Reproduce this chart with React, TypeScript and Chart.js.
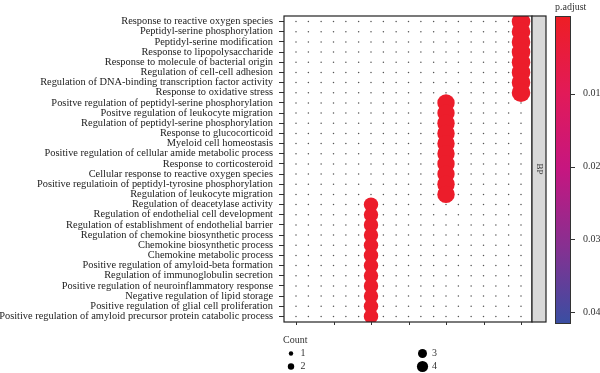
import React, { useEffect, useRef } from "react";
import { Chart, registerables } from "chart.js";
Chart.register(...registerables);

const terms = [
  "Response to reactive oxygen species",
  "Peptidyl-serine phosphorylation",
  "Peptidyl-serine modification",
  "Response to lipopolysaccharide",
  "Response to molecule of bacterial origin",
  "Regulation of cell-cell adhesion",
  "Regulation of DNA-binding transcription factor activity",
  "Response to oxidative stress",
  "Positve regulation of peptidyl-serine phosphorylation",
  "Positve regulation of leukocyte migration",
  "Regulation of peptidyl-serine phosphorylation",
  "Response to glucocorticoid",
  "Myeloid cell homeostasis",
  "Positive regulation of cellular amide metabolic process",
  "Response to corticosteroid",
  "Cellular response to reactive oxygen species",
  "Positive regulatioin of peptidyl-tyrosine phosphorylation",
  "Regulation of leukocyte migration",
  "Regulation of deacetylase activity",
  "Regulation of endothelial cell development",
  "Regulation of establishment of endothelial barrier",
  "Regulation of chemokine biosynthetic process",
  "Chemokine biosynthetic process",
  "Chemokine metabolic process",
  "Positive regulation of amyloid-beta formation",
  "Regulation of immunoglobulin secretion",
  "Positive regulation of neuroinflammatory response",
  "Negative regulation of lipid storage",
  "Positive regulation of glial cell proliferation",
  "Positive regulation of amyloid precursor protein catabolic process",
];

// column (cluster) of each term's enriched dot
const termCluster = [
  7, 7, 7, 7, 7, 7, 7, 7,
  5, 5, 5, 5, 5, 5, 5, 5, 5, 5,
  3, 3, 3, 3, 3, 3, 3, 3, 3, 3, 3, 3,
];
const termCount = [
  4, 4, 4, 4, 4, 4, 4, 4,
  3, 3, 3, 3, 3, 3, 3, 3, 3, 3,
  2, 2, 2, 2, 2, 2, 2, 2, 2, 2, 2, 2,
];
const termPAdjust = [
  0.0008, 0.0008, 0.0008, 0.0008, 0.0008, 0.0008, 0.0008, 0.0008,
  0.0008, 0.0008, 0.0008, 0.0008, 0.0008, 0.0008, 0.0008, 0.0008, 0.0008, 0.0008,
  0.0008, 0.0008, 0.0008, 0.0008, 0.0008, 0.0008, 0.0008, 0.0008, 0.0008, 0.0008, 0.0008, 0.0008,
];

const clusterTicks = [1, 2, 3, 4, 5, 6, 7];
const backgroundColumns = [
  1, 1.33, 1.67, 2, 2.33, 2.67, 3, 3.33, 3.67, 4, 4.33, 4.67, 5, 5.33, 5.67, 6, 6.33, 6.67, 7,
];
const colorbarTicks = [0.01, 0.02, 0.03, 0.04];
const colorbarRange = [-0.0007, 0.0415];
const countLegend = [1, 2, 3, 4];
const facetLabel = "BP";

const SERIF = '"Liberation Serif", "DejaVu Serif", serif';
const STOPS: [number, number[]][] = [
  [0, [238, 30, 36]],
  [0.25, [226, 26, 88]],
  [0.5, [198, 22, 128]],
  [0.75, [135, 48, 145]],
  [1, [58, 78, 162]],
];
function colorAt(t: number) {
  t = Math.max(0, Math.min(1, t));
  for (let i = 1; i < STOPS.length; i++) {
    const [t1, c1] = STOPS[i];
    const [t0, c0] = STOPS[i - 1];
    if (t <= t1) {
      const f = (t - t0) / (t1 - t0);
      const c = c0.map((v, k) => Math.round(v + (c1[k] - v) * f));
      return `rgb(${c[0]},${c[1]},${c[2]})`;
    }
  }
  return "rgb(58,78,162)";
}
const pToColor = (p: number) => colorAt((p - colorbarRange[0]) / (colorbarRange[1] - colorbarRange[0]));
const plotRadius = (c: number) => [0, 4, 7.2, 8.7, 9.3][c];
const legendRadius = (c: number) => [0, 2.2, 3.2, 4.5, 5.6][c];

export default function App() {
  const ref = useRef<HTMLCanvasElement>(null);
  useEffect(() => {
    if (!ref.current) return;
    const rows = terms.map((_, i) => i + 1);
    const bg: { x: number; y: number }[] = [];
    rows.forEach((r) => backgroundColumns.forEach((c) => bg.push({ x: c, y: r })));
    const fg = terms.map((_, i) => ({ x: termCluster[i], y: i + 1 }));

    const decor = {
      id: "decor",
      afterDraw(chart: any) {
        const ctx = chart.ctx;
        const a = chart.chartArea;
        const xs = chart.scales.x;
        ctx.save();
        // panel border
        ctx.strokeStyle = "#222";
        ctx.lineWidth = 1.2;
        ctx.strokeRect(a.left, a.top, a.right - a.left, a.bottom - a.top);
        // x ticks
        ctx.lineWidth = 1;
        ctx.strokeStyle = "#333";
        clusterTicks.forEach((v) => {
          const px = Math.round(xs.getPixelForValue(v)) + 0.5;
          ctx.beginPath();
          ctx.moveTo(px, a.bottom);
          ctx.lineTo(px, a.bottom + 3);
          ctx.stroke();
        });
        // facet strip
        const sx = a.right, sw = 14;
        ctx.fillStyle = "#D9D9D9";
        ctx.fillRect(sx, a.top, sw, a.bottom - a.top);
        ctx.strokeStyle = "#222";
        ctx.lineWidth = 1.2;
        ctx.strokeRect(sx, a.top, sw, a.bottom - a.top);
        ctx.save();
        ctx.translate(sx + sw / 2, (a.top + a.bottom) / 2);
        ctx.rotate(Math.PI / 2);
        ctx.fillStyle = "#333";
        ctx.font = `9px ${SERIF}`;
        ctx.textAlign = "center";
        ctx.textBaseline = "middle";
        ctx.fillText(facetLabel, 0, 0);
        ctx.restore();
        // colorbar
        const bx = 555, bw = 15, by = a.top, bh = 323 - a.top;
        const g = ctx.createLinearGradient(0, by, 0, by + bh);
        STOPS.forEach(([t]) => g.addColorStop(t, colorAt(t)));
        ctx.fillStyle = g;
        ctx.fillRect(bx, by, bw, bh);
        ctx.strokeStyle = "#333";
        ctx.lineWidth = 1;
        ctx.strokeRect(bx + 0.5, by + 0.5, bw, bh);
        ctx.fillStyle = "#333";
        ctx.font = `10px ${SERIF}`;
        ctx.textBaseline = "middle";
        ctx.textAlign = "left";
        colorbarTicks.forEach((v) => {
          const py = by + ((v - colorbarRange[0]) / (colorbarRange[1] - colorbarRange[0])) * bh;
          ctx.beginPath();
          ctx.moveTo(bx + bw + 1, Math.round(py) + 0.5);
          ctx.lineTo(bx + bw + 5, Math.round(py) + 0.5);
          ctx.stroke();
          ctx.fillText(v.toFixed(2), 583, py);
        });
        ctx.font = `10px ${SERIF}`;
        ctx.fillText("p.adjust", 555, 7);
        // count legend
        ctx.fillText("Count", 283, 340);
        countLegend.forEach((c, i) => {
          const col = Math.floor(i / 2), row = i % 2;
          const cx = col === 0 ? 291 : 422.5;
          const cy = row === 0 ? 353.5 : 366.5;
          ctx.fillStyle = "#000";
          ctx.beginPath();
          ctx.arc(cx, cy, legendRadius(c), 0, Math.PI * 2);
          ctx.fill();
          ctx.fillStyle = "#333";
          ctx.fillText(String(c), cx + 9.5, cy);
        });
        ctx.restore();
      },
    };

    const chart = new Chart(ref.current, {
      type: "scatter",
      data: {
        datasets: [
          {
            data: fg,
            pointRadius: termCount.map(plotRadius),
            pointHoverRadius: termCount.map(plotRadius),
            backgroundColor: termPAdjust.map(pToColor),
            borderColor: termPAdjust.map(pToColor),
            borderWidth: 0,
            clip: 0,
          },
          {
            data: bg,
            pointRadius: 0.75,
            backgroundColor: "#555",
            borderWidth: 0,
            clip: 0,
          },
        ],
      },
      options: {
        animation: false,
        responsive: false,
        devicePixelRatio: 1,
        events: [],
        layout: { padding: { left: 0, top: 16, right: 68, bottom: 51 } },
        plugins: { legend: { display: false }, tooltip: { enabled: false } },
        scales: {
          x: {
            type: "linear",
            display: false,
            min: 0.68,
            max: 7.293,
          },
          y: {
            type: "linear",
            reverse: true,
            min: 0.45,
            max: 30.55,
            afterBuildTicks: (s: any) => {
              s.ticks = terms.map((_, i) => ({ value: i + 1 }));
            },
            afterFit: (s: any) => {
              s.width = 284;
            },
            border: { display: false },
            grid: {
              drawOnChartArea: false,
              drawTicks: true,
              tickLength: 5,
              color: "#333",
            },
            ticks: {
              autoSkip: false,
              padding: 6,
              color: "#222",
              font: { family: SERIF, size: 10.4 },
              callback: (v: any) => terms[Number(v) - 1] ?? "",
            },
          },
        },
      },
      plugins: [decor],
    });
    return () => chart.destroy();
  }, []);
  return (
    <div style={{ position: "fixed", left: 0, top: 0, width: 600, height: 373 }}>
      <canvas ref={ref} width={600} height={373} style={{ width: 600, height: 373 }} />
    </div>
  );
}
